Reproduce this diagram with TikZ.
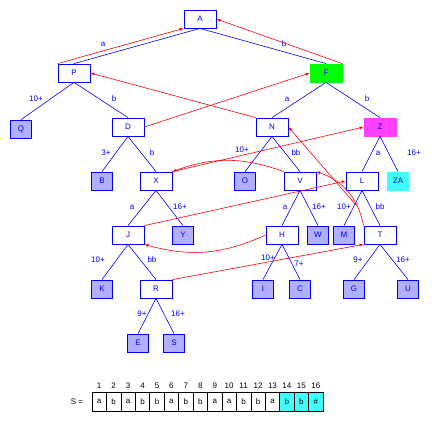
\documentclass[tikz,border=0pt]{standalone}
\usepackage{fontspec}
\setmainfont{Liberation Sans}
\usetikzlibrary{arrows.meta}
\definecolor{tblue}{RGB}{0,0,255}
\definecolor{tred}{RGB}{255,0,0}
\definecolor{leaf}{RGB}{176,176,255}
\definecolor{tgreen}{RGB}{0,255,0}
\definecolor{tmag}{RGB}{255,64,255}
\definecolor{tcyan}{RGB}{64,255,255}
\begin{document}
\begin{tikzpicture}[x=1pt,y=-1pt, font=\fontsize{8}{9}\selectfont,
 inode/.style={draw=tblue, line width=0.8pt, minimum width=32pt, minimum height=18pt, inner sep=0pt, text=tblue, fill=white},
 lnode/.style={inode, minimum width=21pt, fill=leaf},
 edge/.style={draw=tblue, line width=0.6pt},
 lbl/.style={text=tblue, inner sep=0pt},
 link/.style={draw=tred, line width=0.6pt, -{Latex[length=4pt,width=3pt]}},
 cell/.style={draw=black, line width=0.6pt, minimum width=14.44pt, minimum height=19pt, inner sep=0pt},
 num/.style={inner sep=0pt},
]
\useasboundingbox[fill=white] (0,0) rectangle (432,421);
% internal nodes
\node[inode] (A) at (200,19) {A};
\node[inode] (P) at (74,73) {P};
\node[inode, fill=tgreen, draw=tgreen] (F) at (326,73) {F};
\node[inode] (D) at (128,127) {D};
\node[inode] (N) at (272,127) {N};
\node[inode, fill=tmag, draw=tmag] (Z) at (380,127) {Z};
\node[inode] (X) at (156,181) {X};
\node[inode] (V) at (300,181) {V};
\node[inode] (L) at (362,181) {L};
\node[inode] (J) at (128,235) {J};
\node[inode] (H) at (282,235) {H};
\node[inode] (T) at (380,235) {T};
\node[inode] (R) at (156,289) {R};
% leaves
\node[lnode] (Q) at (21,129) {Q};
\node[lnode] (B) at (102,181) {B};
\node[lnode] (O) at (245,181) {O};
\node[lnode, fill=tcyan, draw=tcyan] (ZA) at (398,181) {ZA};
\node[lnode] (Y) at (183,235) {Y};
\node[lnode] (W) at (318,235) {W};
\node[lnode] (M) at (344,235) {M};
\node[lnode] (K) at (102,289) {K};
\node[lnode] (I) at (263,289) {I};
\node[lnode] (C) at (300,289) {C};
\node[lnode] (G) at (354,289) {G};
\node[lnode] (U) at (408,289) {U};
\node[lnode] (E) at (138,343) {E};
\node[lnode] (S) at (174,343) {S};
% tree edges
\foreach \p/\c in {A/P,A/F,P/Q,P/D,F/N,F/Z,D/B,D/X,N/O,N/V,Z/L,Z/ZA,X/J,X/Y,V/H,V/W,L/M,L/T,J/K,J/R,H/I,H/C,T/G,T/U,R/E,R/S}
  \draw[edge] (\p.south) -- (\c.north);
% edge labels
\node[lbl] (l1) at (103,44) {a};
\node[lbl] (l2) at (284,44) {b};
\node[lbl] (l3) at (36,99) {10+};
\node[lbl] (l4) at (114,99) {b};
\node[lbl] (l5) at (287,99) {a};
\node[lbl] (l6) at (367,99) {b};
\node[lbl] (l7) at (106,153) {3+};
\node[lbl] (l8) at (152,153) {b};
\node[lbl] (l9) at (242,150) {10+};
\node[lbl] (l10) at (296,153) {bb};
\node[lbl] (l11) at (378,153) {a};
\node[lbl] (l12) at (414,153) {16+};
\node[lbl] (l13) at (132,207) {a};
\node[lbl] (l14) at (180,207) {16+};
\node[lbl] (l15) at (285,207) {a};
\node[lbl] (l16) at (319,207) {16+};
\node[lbl] (l17) at (344,207) {10+};
\node[lbl] (l18) at (380,207) {bb};
\node[lbl] (l19) at (98,260) {10+};
\node[lbl] (l20) at (152,260) {bb};
\node[lbl] (l21) at (268,258) {10+};
\node[lbl] (l22) at (299,264) {7+};
\node[lbl] (l23) at (358,260) {9+};
\node[lbl] (l24) at (403,260) {16+};
\node[lbl] (l25) at (142,314) {9+};
\node[lbl] (l26) at (178,314) {16+};
% suffix links
\coordinate (Lfoot) at (356,205);
\draw[link] (P.north west) -- (A.south west);
\draw[link] (F.north east) -- (A.east);
\draw[link] (D.east) -- (F.west);
\draw[link] (N.north west) -- (P.east);
\draw[link] (X.north east) -- (Z.west);
\draw[link] (V.north west) to[bend right=20] (X.north east);
\draw[link] (Lfoot) -- (N.east);
\draw[link] (J.north east) -- (L.west);
\draw[link] (H.west) to[bend left=20] (J.south east);
\draw[link] (T.north west) to[bend right=30] (V.north east);
\draw[link] (R.north east) -- (T.south west);
% string
\node[num] (Slbl) at (77,402) {S =};
\foreach \ch [count=\i] in {a,b,a,b,b,a,b,b,a,a,b,b,a,b,b,\#}{
  \ifnum\i>13
    \node[cell, fill=tcyan] (s\i) at ({92+14.44*(\i-0.5)},401.5) {\ch};
  \else
    \node[cell] (s\i) at ({92+14.44*(\i-0.5)},401.5) {\ch};
  \fi
  \node[num] (n\i) at ({92+14.44*(\i-0.5)},386) {\i};
}
\end{tikzpicture}
\end{document}
